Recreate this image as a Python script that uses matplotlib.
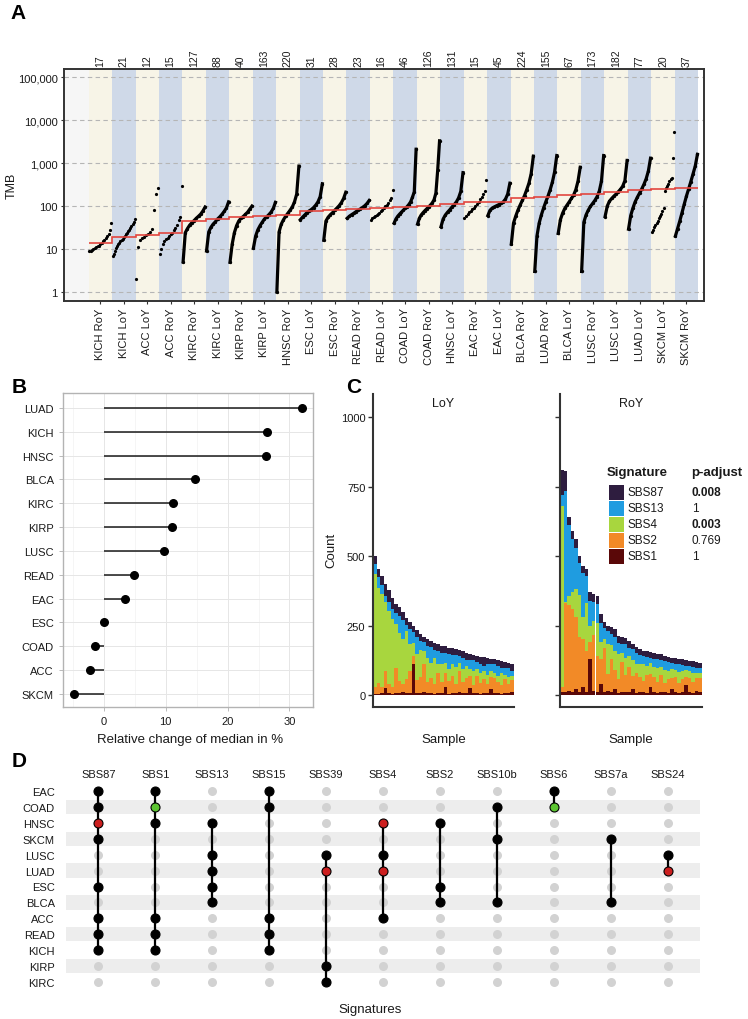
import numpy as np
import matplotlib.pyplot as plt
from matplotlib.patches import Rectangle
from matplotlib.transforms import blended_transform_factory

plt.rcParams['font.family'] = ['Liberation Sans', 'DejaVu Sans']

W, H = 748, 1020


def box(x0, y0, x1, y1):
    # pixel box (top-left origin) -> figure fraction rect
    return [x0 / W, 1 - y1 / H, (x1 - x0) / W, (y1 - y0) / H]


# ---------------- Panel A data ----------------
groups_A = ['KICH RoY', 'KICH LoY', 'ACC LoY', 'ACC RoY', 'KIRC RoY', 'KIRC LoY',
            'KIRP RoY', 'KIRP LoY', 'HNSC RoY', 'ESC LoY', 'ESC RoY', 'READ RoY',
            'READ LoY', 'COAD LoY', 'COAD RoY', 'HNSC LoY', 'EAC RoY', 'EAC LoY',
            'BLCA RoY', 'LUAD RoY', 'BLCA LoY', 'LUSC RoY', 'LUSC LoY', 'LUAD LoY',
            'SKCM LoY', 'SKCM RoY']
counts_A = [17, 21, 12, 15, 127, 88, 40, 163, 220, 31, 28, 23, 16, 46, 126, 131,
            15, 45, 224, 155, 67, 173, 182, 77, 20, 37]

# sorted TMB values (full lists for the small groups,
# evenly spaced quantiles for the large ones)
tmb_sorted = [
    [9.0, 9.2, 9.5, 10, 10.5, 11, 11.5, 12, 13, 14, 15, 16, 18, 20, 22, 28, 40],
    [6.7, 7.5, 9, 10.5, 12, 13, 14, 15, 16, 17, 19, 20, 22, 24, 26, 28, 31, 34, 38, 43, 50],
    [2.0, 11, 16.5, 18, 19.5, 21, 22.5, 25, 30, 82, 190, 260],
    [7.8, 10, 13, 15, 17, 18.5, 20, 22, 24, 27, 31, 37, 47, 57, 300],
    [5.0, 24, 30, 36, 41, 46, 52, 58, 65, 77, 95],
    [9, 25, 32, 38, 43, 50, 56, 64, 75, 90, 125],
    [4.9, 13, 24, 35, 45, 52, 57, 64, 72, 85, 100],
    [10.5, 20, 28, 35, 42, 50, 56, 63, 72, 88, 122],
    [1.0, 25, 38, 48, 58, 68, 80, 95, 125, 190, 850],
    [48, 55, 62, 70, 77, 83, 92, 105, 125, 165, 330],
    [16, 45, 55, 63, 70, 80, 90, 102, 120, 150, 210],
    [52, 58, 63, 68, 74, 80, 86, 93, 102, 115, 135],
    [48, 52, 55, 58, 62, 66, 70, 76, 82, 90, 100, 108, 118, 135, 150, 240],
    [40, 50, 58, 65, 72, 80, 88, 96, 108, 125, 160, 215, 2100],
    [38, 52, 62, 70, 78, 86, 95, 105, 118, 140, 200, 700, 3300],
    [33, 50, 62, 72, 82, 95, 108, 125, 155, 220, 600],
    [53, 60, 66, 72, 78, 85, 92, 100, 110, 125, 145, 165, 190, 230, 400],
    [60, 80, 90, 96, 102, 108, 115, 125, 145, 190, 340],
    [13, 40, 58, 80, 105, 135, 175, 240, 340, 560, 1450],
    [3.0, 20, 40, 62, 90, 125, 170, 240, 360, 620, 1500],
    [23, 48, 68, 88, 105, 125, 150, 180, 240, 380, 800],
    [3.0, 42, 62, 80, 98, 115, 135, 165, 220, 380, 1500],
    [57, 100, 130, 150, 170, 190, 215, 245, 290, 390, 1150],
    [29, 60, 90, 125, 160, 200, 250, 320, 430, 650, 1300],
    [25, 28, 32, 36, 41, 46, 52, 58, 65, 75, 88, 230, 260, 300, 330, 380, 420, 440, 1300, 5400],
    [20, 30, 45, 70, 110, 170, 250, 370, 560, 850, 1600],
]
tmb_median = [13.5, 19, 21.6, 23, 45.7, 50, 54.6, 60, 62, 78, 82, 85, 89.7, 95, 101,
              109, 122, 122, 150, 162, 180, 194, 215, 236, 249, 258]

# ---------------- Panel B data ----------------
b_types = ['LUAD', 'KICH', 'HNSC', 'BLCA', 'KIRC', 'KIRP', 'LUSC', 'READ', 'EAC',
           'ESC', 'COAD', 'ACC', 'SKCM']
b_change = [32.1, 26.4, 26.2, 14.7, 11.1, 11.0, 9.8, 4.9, 3.4, 0.1, -1.5, -2.3, -4.8]

# ---------------- Panel C data ----------------
sig_names = ['SBS87', 'SBS13', 'SBS4', 'SBS2', 'SBS1']
sig_colors = ['#2e1d3f', '#1f9ce0', '#a8d63e', '#f28a27', '#5a0808']
sig_padj = ['0.008', '1', '0.003', '0.769', '1']
sig_bold = [True, False, True, False, False]

loy_sbs1 = [5, 5, 8, 25, 6, 5, 8, 6, 10, 6, 8, 110, 8, 6, 10, 6, 8, 5, 8, 6,
            30, 5, 8, 6, 10, 6, 8, 25, 6, 8, 5, 8, 6, 20, 6, 8, 5, 8, 6, 10]
loy_sbs2 = [25, 40, 20, 60, 35, 25, 90, 45, 30, 50, 80, 30, 45, 60, 100, 40, 55, 35, 70, 40,
            50, 45, 60, 35, 75, 40, 55, 45, 30, 60, 40, 50, 35, 45, 55, 40, 30, 50, 35, 45]
loy_sbs4 = [405, 340, 337, 248, 262, 243, 158, 174, 160, 176, 95, 46, 95, 95, 50, 87, 51, 93, 32, 64,
            35, 44, 45, 59, 30, 47, 42, 22, 49, 26, 33, 28, 30, 21, 20, 22, 44, 15, 25, 15]
loy_sbs13 = [35, 40, 30, 25, 30, 35, 40, 60, 70, 20, 55, 40, 60, 35, 30, 45, 60, 30, 50, 40,
             35, 55, 30, 45, 25, 40, 20, 35, 40, 25, 35, 20, 40, 25, 30, 35, 20, 25, 30, 15]
loy_sbs87 = [30, 30, 35, 40, 45, 40, 30, 30, 28, 25, 25, 22, 25, 22, 20, 25, 20, 25, 22, 28,
             25, 22, 25, 20, 22, 25, 28, 22, 20, 22, 25, 30, 22, 20, 18, 22, 25, 20, 18, 25]

roy_sbs1 = [10, 10, 15, 10, 20, 10, 30, 10, 130, 15, 10, 40, 10, 15, 10, 20, 8, 10, 12, 10,
            20, 8, 10, 12, 8, 30, 10, 8, 12, 10, 8, 20, 10, 8, 12, 35, 10, 8, 15, 10]
roy_sbs2 = [20, 320, 310, 300, 260, 200, 170, 150, 60, 200, 130, 90, 160, 60, 120, 70, 50, 110, 60, 90,
            50, 70, 55, 40, 65, 45, 55, 40, 60, 35, 50, 40, 55, 35, 45, 30, 50, 40, 45, 50]
roy_sbs4 = [650, 5, 30, 60, 100, 150, 80, 170, 60, 50, 120, 60, 30, 110, 50, 70, 90, 30, 60, 40,
            55, 35, 45, 60, 30, 40, 35, 50, 30, 45, 30, 35, 25, 40, 30, 25, 25, 30, 20, 20]
roy_sbs13 = [40, 400, 255, 190, 150, 115, 160, 100, 90, 70, 66, 70, 40, 44, 40, 50, 40, 35, 50, 30,
             40, 40, 35, 27, 34, 20, 30, 30, 24, 32, 30, 20, 22, 27, 21, 16, 19, 23, 18, 16]
roy_sbs87 = [90, 70, 30, 30, 30, 25, 25, 25, 30, 30, 30, 30, 22, 20, 25, 27, 24, 24, 23, 25,
             20, 20, 20, 20, 20, 20, 22, 20, 20, 20, 20, 20, 20, 20, 20, 20, 20, 20, 20, 20]

# ---------------- Panel D data ----------------
d_signatures = ['SBS87', 'SBS1', 'SBS13', 'SBS15', 'SBS39', 'SBS4', 'SBS2', 'SBS10b',
                'SBS6', 'SBS7a', 'SBS24']
d_types = ['EAC', 'COAD', 'HNSC', 'SKCM', 'LUSC', 'LUAD', 'ESC', 'BLCA', 'ACC', 'READ',
           'KICH', 'KIRP', 'KIRC']
d_members = [
    ['EAC', 'COAD', 'HNSC', 'SKCM', 'ESC', 'ACC', 'READ', 'KICH'],
    ['EAC', 'COAD', 'HNSC', 'ACC', 'READ', 'KICH'],
    ['HNSC', 'LUSC', 'LUAD', 'ESC', 'BLCA'],
    ['EAC', 'COAD', 'ACC', 'READ', 'KICH'],
    ['LUSC', 'LUAD', 'KIRP', 'KIRC'],
    ['HNSC', 'LUSC', 'LUAD', 'ACC'],
    ['HNSC', 'ESC', 'BLCA'],
    ['COAD', 'SKCM', 'BLCA'],
    ['EAC', 'COAD'],
    ['SKCM', 'BLCA'],
    ['LUSC', 'LUAD'],
]
d_up = [('SBS87', 'HNSC'), ('SBS39', 'LUAD'), ('SBS4', 'HNSC'), ('SBS4', 'LUAD'),
        ('SBS24', 'LUAD')]
d_down = [('SBS1', 'COAD'), ('SBS6', 'COAD')]

fig = plt.figure(figsize=(W / 100, H / 100), dpi=100)
txt = '#1a1a1a'

# ================= Panel A =================
axA = fig.add_axes(box(64, 70, 704, 302))
n_A = len(groups_A)
axA.set_xlim(-1.55, n_A - 0.25)
axA.set_yscale('log')
axA.set_ylim(10 ** -0.21, 10 ** 5.19)
for i in range(-1, n_A):
    if i < 0:
        c = '#f6f6f6'
    elif i % 2 == 0:
        c = '#f7f4e7'
    else:
        c = '#cfd9e8'
    axA.axvspan(i - 0.5, i + 0.5, color=c, lw=0, zorder=0)
for v in [1, 10, 100, 1000, 10000, 100000]:
    axA.axhline(v, color='#b5b5b5', ls=(0, (4, 3)), lw=0.8, zorder=1)

for i, (vals, n) in enumerate(zip(tmb_sorted, counts_A)):
    xs = np.linspace(i - 0.47, i + 0.47, len(vals))
    if len(vals) == n:
        axA.plot(xs, vals, 'o', color='black', ms=2.3, mew=0, zorder=4)
    else:
        axA.plot(xs, vals, '-o', color='black', lw=2.3, ms=2.4, mew=0, zorder=4)

axA.stairs(tmb_median, np.arange(-0.5, n_A), color='#e2463f', lw=1.2, zorder=5,
           baseline=None)

axA.set_xticks(range(n_A))
axA.set_xticklabels(groups_A, rotation=90, fontsize=8, color=txt)
axA.set_yticks([1, 10, 100, 1000, 10000, 100000])
axA.set_yticklabels(['1', '10', '100', '1,000', '10,000', '100,000'], fontsize=8, color=txt)
axA.minorticks_off()
axA.tick_params(length=2.5, width=0.8, color='#333333', pad=2)
for s in axA.spines.values():
    s.set_linewidth(1.4)
    s.set_color('#333333')
trA = blended_transform_factory(axA.transData, axA.transAxes)
for i, c in enumerate(counts_A):
    axA.text(i, 1.015, str(c), transform=trA, rotation=90, ha='center', va='bottom',
             fontsize=7.5, color=txt)
fig.text(12 / W, 1 - 186 / H, 'TMB', rotation=90, ha='center', va='center',
         fontsize=9, color=txt)

# ================= Panel B =================
axB = fig.add_axes(box(63, 394, 313, 708))
yB = np.arange(len(b_types))
axB.set_xlim(-6.6, 33.8)
axB.set_ylim(len(b_types) - 0.45, -0.63)
axB.set_xticks([0, 10, 20, 30])
axB.set_xticks([-5, 5, 15, 25], minor=True)
axB.set_yticks(yB)
axB.set_yticklabels(b_types, fontsize=8, color=txt)
axB.tick_params(axis='x', labelsize=8, labelcolor=txt)
axB.tick_params(which='both', length=3, width=0.6, color='#b0b0b0')
axB.tick_params(which='minor', length=0)
axB.grid(which='major', color='#e6e6e6', lw=0.7)
axB.grid(which='minor', axis='x', color='#f2f2f2', lw=0.5)
axB.set_axisbelow(True)
for s in axB.spines.values():
    s.set_color('#b3b3b3')
    s.set_linewidth(1.0)
axB.hlines(yB, 0, b_change, color='#1a1a1a', lw=1.1, zorder=2)
axB.scatter(b_change, yB, s=30, color='black', zorder=3)
fig.text(190 / W, 1 - 740 / H, 'Relative change of median in %', ha='center', va='center',
         fontsize=9.5, color=txt)

# ================= Panel C =================
loy_stack = [loy_sbs1, loy_sbs2, loy_sbs4, loy_sbs13, loy_sbs87]
roy_stack = [roy_sbs1, roy_sbs2, roy_sbs4, roy_sbs13, roy_sbs87]
stack_colors = sig_colors[::-1]
for k, (stack, title, xr) in enumerate([(loy_stack, 'LoY', (373, 514)),
                                       (roy_stack, 'RoY', (560, 702))]):
    ax = fig.add_axes(box(xr[0], 395, xr[1], 708))
    nb = len(stack[0])
    xb = np.arange(nb)
    bottom = np.zeros(nb)
    for vals, col in zip(stack, stack_colors):
        ax.bar(xb, vals, bottom=bottom, width=1.0, color=col, lw=0)
        bottom = bottom + np.array(vals)
    ax.set_xlim(-0.5, nb - 0.5)
    ax.set_ylim(-43, 1083)
    ax.set_xticks([])
    ax.set_yticks([0, 250, 500, 750, 1000])
    if k == 0:
        ax.tick_params(axis='y', labelsize=8, labelcolor=txt)
    else:
        ax.set_yticklabels([])
    ax.tick_params(axis='y', length=3.5, width=1.0, color='#333333', pad=2)
    for side in ['top', 'right']:
        ax.spines[side].set_visible(False)
    for side in ['left', 'bottom']:
        ax.spines[side].set_linewidth(1.5)
        ax.spines[side].set_color('#333333')
    ax.patch.set_alpha(0)
    ax.text(0.5, 1050, title, transform=blended_transform_factory(ax.transAxes, ax.transData),
            ha='center', va='center', fontsize=9, color=txt)
    fig.text((xr[0] + xr[1]) / 2 / W, 1 - 740 / H, 'Sample', ha='center', va='center',
             fontsize=9.5, color=txt)
fig.text(331 / W, 1 - 550 / H, 'Count', rotation=90, ha='center', va='center',
         fontsize=9.5, color=txt)

# legend for panel C, drawn in pixel space
axL = fig.add_axes([0, 0, 1, 1])
axL.set_xlim(0, W)
axL.set_ylim(H, 0)
axL.axis('off')
axL.text(607, 473, 'Signature', fontsize=9.5, fontweight='bold', va='center', color=txt)
axL.text(691, 473, 'p-adjust', fontsize=9.5, fontweight='bold', va='center', color=txt)
for j, (nm, col, p, b) in enumerate(zip(sig_names, sig_colors, sig_padj, sig_bold)):
    yc = 493 + 16 * j
    axL.add_patch(Rectangle((609, yc - 7.5), 15, 15, color=col, lw=0))
    axL.text(628, yc, nm, fontsize=8.5, va='center', color=txt)
    axL.text(692, yc, p, fontsize=8.5, va='center', color=txt,
             fontweight='bold' if b else 'normal')

# ================= Panel D =================
axD = fig.add_axes(box(66, 784, 700, 991))
nS, nT = len(d_signatures), len(d_types)
axD.set_xlim(-0.57, nS - 0.43)
axD.set_ylim(nT - 0.5, -0.5)
for r in range(1, nT, 2):
    axD.axhspan(r - 0.45, r + 0.45, color='#ededed', lw=0, zorder=0)
gx, gy = np.meshgrid(np.arange(nS), np.arange(nT))
axD.scatter(gx.ravel(), gy.ravel(), s=42, color='#d2d2d2', lw=0, zorder=1)
for j, (sig, mem) in enumerate(zip(d_signatures, d_members)):
    rows = [d_types.index(t) for t in mem]
    axD.plot([j, j], [min(rows), max(rows)], color='black', lw=1.6, zorder=2)
    for t, r in zip(mem, rows):
        if (sig, t) in d_up:
            fc = '#cc1f1f'
        elif (sig, t) in d_down:
            fc = '#5cc531'
        else:
            fc = 'black'
        axD.scatter([j], [r], s=42, color=fc, edgecolor='black', lw=0.8, zorder=3)
axD.set_yticks(range(nT))
axD.set_yticklabels(d_types, fontsize=8, color=txt)
axD.xaxis.tick_top()
axD.set_xticks(range(nS))
axD.set_xticklabels(d_signatures, fontsize=8, color=txt)
axD.tick_params(length=0, pad=3)
axD.tick_params(axis='y', pad=8)
for s in axD.spines.values():
    s.set_visible(False)
fig.text(370 / W, 1 - 1010 / H, 'Signatures', ha='center', va='center', fontsize=9.5,
         color=txt)

# panel letters
for lab, (x, y) in {'A': (10, 4), 'B': (12, 378), 'C': (346, 378), 'D': (12, 752)}.items():
    fig.text(x / W, 1 - y / H, lab, fontsize=15, fontweight='bold', va='top', ha='left',
             color='black')

fig.savefig('out.png', dpi=100)
